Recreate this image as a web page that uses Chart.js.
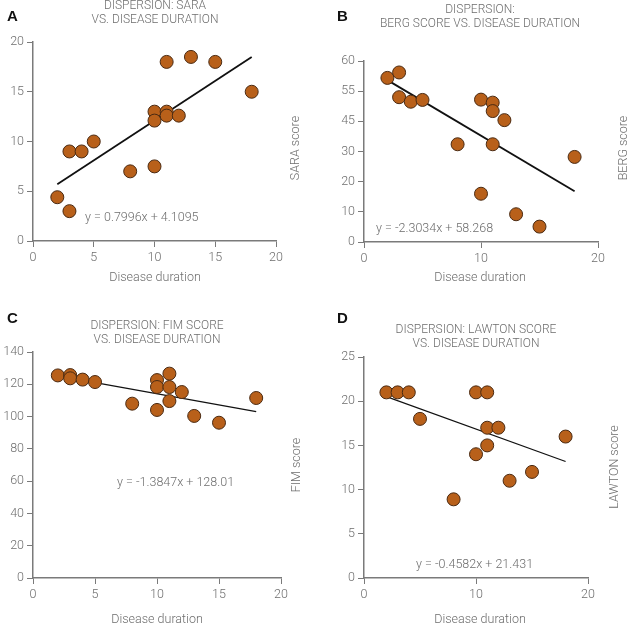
<!DOCTYPE html>
<html>
<head>
<meta charset="utf-8">
<script src="https://cdn.jsdelivr.net/npm/chart.js@4"></script>
<style>
  body { margin: 0; background: #fff; }
  #wrap { position: relative; width: 637px; height: 629px; }
  .panel { position: absolute; }
</style>
</head>
<body>
<div id="wrap">
  <div class="panel" style="left:0;top:0;width:318px;height:300px"><canvas id="chart-a"></canvas></div>
  <div class="panel" style="left:318px;top:0;width:319px;height:300px"><canvas id="chart-b"></canvas></div>
  <div class="panel" style="left:0;top:300px;width:318px;height:329px"><canvas id="chart-c"></canvas></div>
  <div class="panel" style="left:318px;top:300px;width:319px;height:329px"><canvas id="chart-d"></canvas></div>
</div>
<script>
// disease duration (years) per patient, one list per panel
const durationA = [2, 3, 3, 4, 5, 8, 10, 10, 10, 11, 11, 11, 12, 13, 15, 18];
const saraScore = [4.4, 3, 9, 9, 10, 7, 7.5, 13, 12.1, 18, 13, 12.6, 12.6, 18.5, 18, 15];

const durationB = [2, 3, 3, 4, 5, 8, 10, 10, 11, 11, 11, 12, 13, 15, 18];
const bergScore = [54.4, 56.2, 48, 46.5, 47.1, 32.4, 47.2, 16, 46.2, 43.4, 32.4, 40.4, 9.2, 5.1, 28.2];
const bergTickLabels = ['0', '10', '20', '30', '45', '55', '60'];

const durationC = [2, 3, 3, 4, 5, 8, 10, 10, 10, 11, 11, 11, 12, 13, 15, 18];
const fimScore = [125.5, 125.7, 123.7, 122.9, 121.4, 108, 122.6, 118.3, 104.1, 126.6, 118.3, 109.6, 115.2, 100.4, 96.2, 111.5];

const durationD = [2, 3, 4, 5, 8, 10, 10, 11, 11, 11, 12, 13, 15, 18];
const lawtonScore = [21, 21, 21, 18, 8.9, 21, 14, 21, 17, 15, 17, 11, 12, 16];

// trend line coefficients as printed on each panel
const slopes = [0.7996, -2.3034, -1.3847, -0.4582];
const intercepts = [4.1095, 58.268, 128.01, 21.431];
const trendRange = [2, 18];

const FONT = 'Roboto, "Liberation Sans", sans-serif';
const GREY = '#6e6e6e';
const AXIS = '#7a7a7a';

function toPoints(xs, ys) {
    return xs.map((x, i) => ({ x: x, y: ys[i] }));
}

function trend(k) {
    return trendRange.map(x => ({ x: x, y: slopes[k] * x + intercepts[k] }));
}

// draws panel letter, titles, axis titles and equation
const textPlugin = {
    id: 'panelText',
    afterDraw(chart) {
        const t = chart.options.plugins.panelText;
        const ctx = chart.ctx;
        ctx.save();
        ctx.textBaseline = 'middle';

        ctx.fillStyle = '#111';
        ctx.font = 'bold 15px "Liberation Sans", Arial, sans-serif';
        ctx.textAlign = 'left';
        ctx.fillText(t.letter, t.letterPos[0], t.letterPos[1]);

        ctx.fillStyle = GREY;
        ctx.font = '300 12px ' + FONT;
        ctx.textAlign = 'center';
        t.title.forEach((line, i) => {
            ctx.fillText(line, t.titlePos[0], t.titlePos[1] + i * 14);
        });

        ctx.font = '300 12.5px ' + FONT;
        ctx.fillText('Disease duration', t.xTitlePos[0], t.xTitlePos[1]);

        ctx.save();
        ctx.translate(t.yTitlePos[0], t.yTitlePos[1]);
        ctx.rotate(-Math.PI / 2);
        ctx.fillText(t.yTitle, 0, 0);
        ctx.restore();

        ctx.font = '300 12.5px ' + FONT;
        ctx.textAlign = 'left';
        ctx.fillText(t.equation, t.eqPos[0], t.eqPos[1]);
        ctx.restore();
    }
};

function makeChart(id, cfg) {
    const ctx = document.getElementById(id).getContext('2d');
    return new Chart(ctx, {
        type: 'scatter',
        data: {
            datasets: [{
                data: cfg.points,
                backgroundColor: '#b8601a',
                borderColor: '#4a2a12',
                borderWidth: 1,
                pointRadius: 6.5,
                order: 1
            }, {
                type: 'line',
                data: cfg.line,
                borderColor: '#111',
                borderWidth: cfg.lineWidth,
                pointRadius: 0,
                fill: false,
                order: 2
            }]
        },
        options: {
            responsive: true,
            maintainAspectRatio: false,
            animation: false,
            layout: {
                padding: { left: 0, top: cfg.area.top, right: cfg.w - cfg.area.right, bottom: cfg.h - cfg.area.bottom - 24 }
            },
            plugins: {
                legend: { display: false },
                tooltip: { enabled: false },
                panelText: cfg.text
            },
            scales: {
                x: {
                    type: 'linear',
                    min: 0,
                    max: 20,
                    afterFit: s => { s.height = 24; },
                    grid: { drawOnChartArea: false, drawTicks: true, tickLength: 6, color: AXIS },
                    border: { color: AXIS, width: 1.5 },
                    ticks: { stepSize: cfg.xStep, color: GREY, padding: 3, font: { family: FONT, size: 12.5, weight: '300' } }
                },
                y: {
                    min: 0,
                    max: cfg.yMax,
                    afterFit: s => { s.width = cfg.area.left; },
                    grid: { drawOnChartArea: false, drawTicks: true, tickLength: 6, color: AXIS },
                    border: { color: AXIS, width: 1.5 },
                    ticks: {
                        stepSize: cfg.yStep,
                        color: GREY,
                        padding: 3,
                        font: { family: FONT, size: 12.5, weight: '300' },
                        callback: cfg.yLabels ? (v, i) => cfg.yLabels[i] : undefined
                    }
                }
            }
        },
        plugins: [textPlugin]
    });
}

document.addEventListener('DOMContentLoaded', function() {
    // A: SARA
    makeChart('chart-a', {
        w: 318, h: 300,
        area: { left: 33, right: 276, top: 42, bottom: 241 },
        points: toPoints(durationA, saraScore),
        line: trend(0), lineWidth: 1.8,
        xStep: 5, yMax: 20, yStep: 5,
        text: {
            letter: 'A', letterPos: [7, 17],
            title: ['DISPERSION: SARA', 'VS. DISEASE DURATION'], titlePos: [155, 6],
            xTitlePos: [155, 278], yTitle: 'SARA score', yTitlePos: [296, 148],
            equation: 'y = 0.7996x + 4.1095', eqPos: [85, 218]
        }
    });

    // B: BERG
    makeChart('chart-b', {
        w: 319, h: 300,
        area: { left: 46, right: 280, top: 61, bottom: 242 },
        points: toPoints(durationB, bergScore),
        line: trend(1), lineWidth: 1.8,
        xStep: 10, yMax: 60, yStep: 10, yLabels: bergTickLabels,
        text: {
            letter: 'B', letterPos: [19, 17],
            title: ['DISPERSION:', 'BERG SCORE VS. DISEASE DURATION'], titlePos: [162, 10],
            xTitlePos: [162, 278], yTitle: 'BERG score', yTitlePos: [306, 148],
            equation: 'y = -2.3034x + 58.268', eqPos: [58, 229]
        }
    });

    // C: FIM
    makeChart('chart-c', {
        w: 318, h: 329,
        area: { left: 33, right: 281, top: 52, bottom: 278 },
        points: toPoints(durationC, fimScore),
        line: trend(2), lineWidth: 1.2,
        xStep: 5, yMax: 140, yStep: 20,
        text: {
            letter: 'C', letterPos: [7, 19],
            title: ['DISPERSION: FIM SCORE', 'VS. DISEASE DURATION'], titlePos: [157, 26],
            xTitlePos: [157, 320], yTitle: 'FIM score', yTitlePos: [297, 165],
            equation: 'y = -1.3847x + 128.01', eqPos: [117, 183]
        }
    });

    // D: LAWTON
    makeChart('chart-d', {
        w: 319, h: 329,
        area: { left: 46, right: 270, top: 57, bottom: 278 },
        points: toPoints(durationD, lawtonScore),
        line: trend(3), lineWidth: 1.2,
        xStep: 10, yMax: 25, yStep: 5,
        text: {
            letter: 'D', letterPos: [19, 19],
            title: ['DISPERSION: LAWTON SCORE', 'VS. DISEASE DURATION'], titlePos: [158, 30],
            xTitlePos: [162, 320], yTitle: 'LAWTON score', yTitlePos: [297, 167],
            equation: 'y = -0.4582x + 21.431', eqPos: [98, 265]
        }
    });
});
</script>
</body>
</html>
